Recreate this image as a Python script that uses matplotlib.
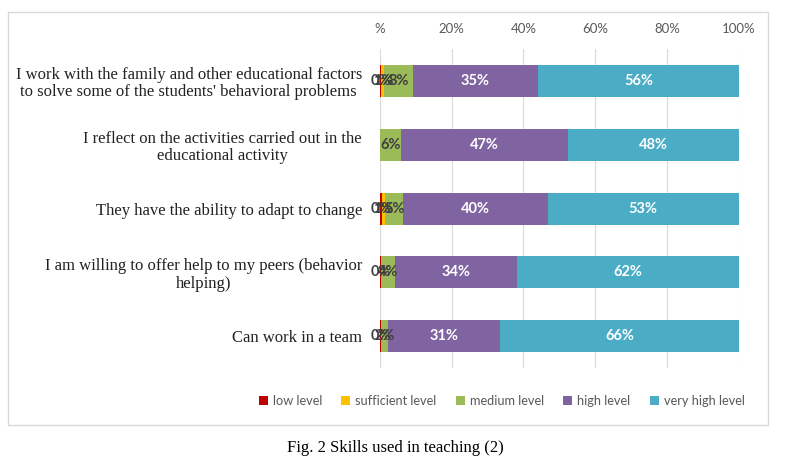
import matplotlib
matplotlib.use("Agg")
import matplotlib.pyplot as plt
from matplotlib.patches import Rectangle
import numpy as np

categories = [
    "I work with the family and other educational factors\nto solve some of the students' behavioral problems",
    "I reflect on the activities carried out in the\neducational activity",
    "They have the ability to adapt to change",
    "I am willing to offer help to my peers (behavior\nhelping)",
    "Can work in a team",
]
series_names = ["low level", "sufficient level", "medium level", "high level", "very high level"]
low_level = [0.4, 0.0, 0.5, 0.3, 0.3]
sufficient_level = [0.8, 0.0, 1.0, 0.0, 0.0]
medium_level = [8, 6, 5, 4, 2]
high_level = [35, 47, 40, 34, 31]
very_high_level = [56, 48, 53, 62, 66]
tick_values = [0, 20, 40, 60, 80, 100]
tick_labels = ["%", "20%", "40%", "60%", "80%", "100%"]

colors = ["#C00000", "#FFC000", "#9BBB59", "#8064A2", "#4BACC6"]
label_colors = ["#404040", "#404040", "#404040", "white", "white"]

series = [low_level, sufficient_level, medium_level, high_level, very_high_level]
data = np.array(series, dtype=float)
totals = data.sum(axis=0)
shares = data / totals * 100

fig = plt.figure(figsize=(7.9, 4.62), dpi=100)
ax = fig.add_axes([0.481, 0.203, 0.454, 0.691])

y = np.arange(len(categories))
left = np.zeros(len(categories))
for i, name in enumerate(series_names):
    ax.barh(y, shares[i], left=left, height=0.5, color=colors[i], label=name, zorder=3)
    for j in range(len(categories)):
        if data[i, j] > 0:
            ax.text(left[j] + shares[i, j] / 2, y[j], f"{data[i, j]:.0f}%",
                    ha="center", va="center", fontsize=10.5, fontweight="bold",
                    color=label_colors[i], family="Lato", zorder=4)
    left += shares[i]

ax.set_xlim(0, 100)
ax.set_ylim(len(categories) - 0.5, -0.5)
ax.xaxis.tick_top()
ax.set_xticks(tick_values)
ax.set_xticklabels(tick_labels, family="Lato", fontsize=9.5, color="#595959")
ax.set_yticks(y)
ax.set_yticklabels(categories, family="Liberation Serif", fontsize=12, color="#222222",
                   multialignment="center", linespacing=1.1)
ax.tick_params(length=0)
ax.tick_params(axis="y", pad=13)
ax.tick_params(axis="x", pad=10)
ax.grid(axis="x", color="#D9D9D9", linewidth=0.8, zorder=0)
for s in ax.spines.values():
    s.set_visible(False)

fig.legend(loc="center", bbox_to_anchor=(0.635, 0.133), ncol=5, frameon=False,
           prop={"family": "Lato", "size": 9.2}, handlelength=0.7, handleheight=0.7,
           handletextpad=0.4, columnspacing=1.5, labelcolor="#595959")

fig.patches.append(Rectangle((8 / 790, 1 - 425 / 462), 760 / 790, 413 / 462,
                             transform=fig.transFigure, fill=False,
                             edgecolor="#D9D9D9", linewidth=1))
fig.text(0.5, 1 - 448 / 462, "Fig. 2 Skills used in teaching (2)", ha="center", va="center",
         family="Liberation Serif", fontsize=12)

fig.savefig("out.png", dpi=100)
